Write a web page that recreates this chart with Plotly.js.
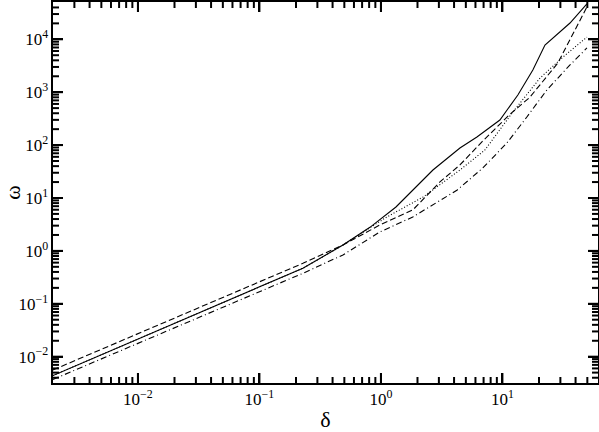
<!DOCTYPE html>
<html>
<head>
<meta charset="utf-8">
<script src="https://cdn.plot.ly/plotly-3.0.1.min.js"></script>
<style>
  html, body { margin: 0; padding: 0; background: #fff; }
  #plot { width: 599px; height: 432px; }
</style>
</head>
<body>
<div id="plot"></div>
<script>
// values (delta, omega), one pair of arrays per curve
const deltaSolid = [0.002, 0.228, 0.487, 0.812, 1.33, 2.68, 4.47, 6.17, 9.53, 13.4, 17.8, 22.4, 36.0, 49.6];
const omegaSolid = [0.00441, 0.470, 1.29, 2.79, 6.76, 33.8, 88.1, 142, 298, 885, 2630, 7800, 20300, 46500];

const deltaDashed = [0.002, 0.228, 0.487, 0.98, 1.83, 3.06, 4.47, 6.78, 11.5, 16.8, 28.6, 49.6];
const omegaDashed = [0.00561, 0.583, 1.29, 3.09, 5.93, 20.1, 42.1, 115, 380, 800, 3560, 40800];

const deltaDotted = [0.002, 0.228, 0.487, 1.12, 2.22, 4.47, 7.18, 12.2, 20.4, 31.5, 49.6];
const omegaDotted = [0.00441, 0.470, 1.29, 4.38, 10.4, 33.8, 80.8, 423, 1850, 4620, 11000];

const deltaDashDot = [0.002, 0.228, 0.487, 0.98, 1.83, 4.22, 6.9, 10.9, 15.9, 23.2, 36.0, 49.6];
const omegaDashDot = [0.00371, 0.377, 0.837, 2.28, 4.38, 14.0, 36.9, 110, 340, 1100, 3270, 6850];

const xMajor = [0.01, 0.1, 1, 10];
const yMajor = [0.01, 0.1, 1, 10, 100, 1000, 10000];

// decade labels: plotly writes 1 and 10 plainly, the figure keeps the power form
const decadeLabels = {'1': '10<sup>0</sup>', '10': '10<sup>1</sup>'};

const xMin = 0.002, xMax = 61.2;
const yMin = 0.00318, yMax = 50700;

const serif = 'Liberation Serif, Times New Roman, serif';

const line = (x, y, dash) => ({
  x: x, y: y, mode: 'lines', type: 'scatter',
  line: {color: '#000', width: 1.1, dash: dash},
  hoverinfo: 'skip'
});

const data = [
  line(deltaSolid, omegaSolid, 'solid'),
  line(deltaDashed, omegaDashed, '6px,3px'),
  line(deltaDotted, omegaDotted, '1px,2px'),
  line(deltaDashDot, omegaDashDot, '6px,3px,1px,3px')
];

// minor ticks 2..9 of every decade inside the range
const minorValues = (lo, hi) => {
  const out = [];
  for (let e = Math.floor(Math.log10(lo)); e <= Math.ceil(Math.log10(hi)); e++) {
    for (let m = 2; m <= 9; m++) {
      const v = m * Math.pow(10, e);
      if (v > lo * 1.02 && v < hi * 0.98) out.push(v);
    }
  }
  return out;
};

// tick marks on all four sides, drawn as pixel-length shapes placed by the axes
const tickStyle = {color: '#000', width: 2};
const shapes = [];
const addXTicks = (vals, len) => vals.forEach(v => {
  shapes.push({type: 'line', xref: 'x', yref: 'paper', ysizemode: 'pixel', yanchor: 0,
               x0: v, x1: v, y0: 0, y1: len, line: tickStyle});
  shapes.push({type: 'line', xref: 'x', yref: 'paper', ysizemode: 'pixel', yanchor: 1,
               x0: v, x1: v, y0: 0, y1: -len, line: tickStyle});
});
const addYTicks = (vals, len) => vals.forEach(v => {
  shapes.push({type: 'line', yref: 'y', xref: 'paper', xsizemode: 'pixel', xanchor: 0,
               y0: v, y1: v, x0: 0, x1: len, line: tickStyle});
  shapes.push({type: 'line', yref: 'y', xref: 'paper', xsizemode: 'pixel', xanchor: 1,
               y0: v, y1: v, x0: 0, x1: -len, line: tickStyle});
});
addXTicks(minorValues(xMin, xMax), 6);
addYTicks(minorValues(yMin, yMax), 6);
addXTicks(xMajor, 10);
addYTicks(yMajor, 10);

const axisBase = {
  type: 'log',
  showgrid: true,
  gridcolor: 'rgba(0,0,0,0)',
  zeroline: false,
  showline: true,
  linecolor: '#000',
  linewidth: 2,
  mirror: 'allticks',
  ticks: 'inside',
  ticklen: 10,
  tickwidth: 2,
  tickcolor: '#000',
  dtick: 1,
  exponentformat: 'power',
  labelalias: decadeLabels,
  tickfont: {family: serif, size: 13.6, color: '#000'}
};

const layout = {
  width: 599,
  height: 432,
  margin: {l: 53, r: 1, t: 2, b: 49},
  showlegend: false,
  font: {family: serif, color: '#000'},
  shapes: shapes,
  xaxis: Object.assign({}, axisBase, {
    range: [Math.log10(xMin), Math.log10(xMax)],
    title: {text: 'δ', font: {family: serif, size: 22, color: '#000'}, standoff: 6}
  }),
  yaxis: Object.assign({}, axisBase, {
    range: [Math.log10(yMin), Math.log10(yMax)],
    title: {text: 'ω', font: {family: serif, size: 22, color: '#000'}, standoff: 4}
  })
};

Plotly.newPlot('plot', data, layout, {displayModeBar: false});
</script>
</body>
</html>
